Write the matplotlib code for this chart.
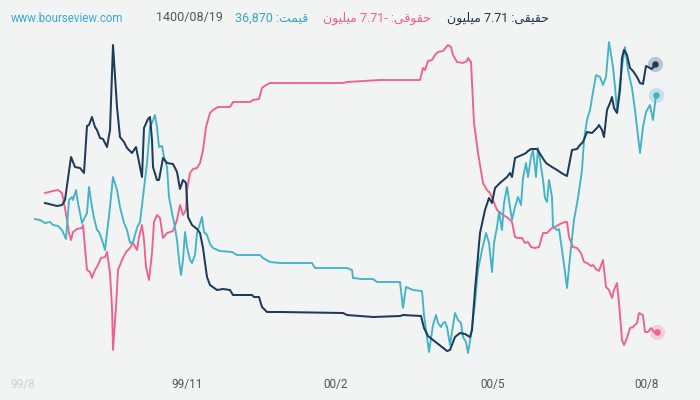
import numpy as np
import matplotlib
matplotlib.use("Agg")
import matplotlib.pyplot as plt

# trading-day positions and index levels
navy_day = [45, 57, 62, 65, 71, 75, 80, 84, 87, 89,
            92, 95, 97, 100, 103, 107, 110, 113, 117, 120,
            124, 127, 132, 136, 138, 142, 144, 148, 150, 152,
            153, 157, 159, 163, 167, 173, 177, 180, 183, 186,
            188, 192, 197, 200, 203, 207, 210, 217, 223, 230,
            233, 252, 254, 259, 262, 267, 280, 343, 347, 373,
            400, 403, 421, 424, 428, 433, 442, 447, 450, 455,
            460, 465, 470, 472, 475, 480, 485, 489, 492, 495,
            500, 507, 510, 512, 515, 522, 526, 528, 531, 537,
            542, 546, 552, 557, 563, 567, 572, 577, 580, 583,
            587, 592, 597, 599, 602, 604, 607, 610, 612, 614,
            617, 620, 622, 624, 627, 630, 633, 637, 640, 643,
            646, 648, 652, 655]
navy_val = [157, 154, 155, 160, 203, 193, 192, 187, 234, 235,
            243, 233, 230, 222, 221, 213, 230, 315, 253, 223,
            218, 212, 207, 213, 203, 183, 232, 241, 243, 220,
            193, 180, 180, 202, 197, 196, 188, 171, 180, 177,
            143, 135, 131, 127, 112, 83, 75, 70, 71, 70,
            65, 65, 63, 63, 53, 48, 48, 47, 45, 43,
            44, 45, 44, 32, 24, 20, 13, 9, 10, 23,
            27, 26, 23, 30, 70, 127, 150, 162, 157, 172,
            177, 183, 187, 183, 202, 205, 207, 209, 211, 211,
            203, 197, 193, 190, 186, 184, 210, 211, 215, 218,
            228, 227, 232, 235, 230, 223, 250, 257, 263, 252,
            247, 270, 302, 310, 305, 292, 289, 283, 277, 276,
            294, 293, 291, 296]

teal_day = [35, 40, 45, 50, 53, 58, 62, 66, 69, 72,
            73, 76, 78, 82, 85, 87, 89, 92, 94, 97,
            99, 102, 105, 107, 110, 113, 117, 120, 124, 127,
            130, 133, 137, 140, 143, 147, 150, 152, 155, 157,
            159, 162, 164, 167, 169, 172, 174, 177, 179, 181,
            183, 185, 187, 190, 192, 195, 197, 199, 202, 204,
            207, 210, 213, 220, 232, 237, 260, 263, 270, 280,
            312, 315, 347, 352, 353, 362, 373, 377, 400, 403,
            406, 413, 422, 424, 427, 429, 433, 436, 438, 441,
            443, 445, 447, 450, 455, 458, 461, 463, 466, 468,
            471, 475, 478, 482, 486, 489, 492, 494, 497, 499,
            502, 504, 507, 509, 512, 515, 518, 521, 523, 526,
            528, 531, 533, 536, 538, 540, 543, 545, 547, 549,
            552, 553, 557, 559, 563, 567, 570, 574, 578, 582,
            584, 587, 590, 593, 596, 600, 603, 606, 609, 613,
            615, 617, 620, 623, 625, 628, 632, 635, 640, 643,
            646, 650, 653, 656]
teal_val = [141, 140, 137, 138, 135, 134, 130, 121, 160, 163,
            160, 170, 157, 137, 143, 147, 173, 153, 142, 130,
            128, 120, 110, 127, 153, 183, 170, 153, 137, 130,
            117, 118, 132, 138, 163, 197, 233, 237, 245, 233,
            213, 214, 203, 193, 163, 147, 138, 120, 100, 85,
            100, 128, 113, 100, 97, 105, 127, 133, 143, 128,
            125, 116, 112, 109, 108, 105, 105, 102, 98, 97,
            97, 92, 92, 90, 82, 81, 81, 78, 78, 52,
            73, 70, 69, 45, 23, 8, 35, 45, 37, 33,
            37, 38, 33, 15, 47, 40, 37, 23, 18, 7,
            25, 57, 90, 110, 127, 117, 88, 117, 133, 148,
            130, 157, 173, 160, 140, 153, 163, 155, 182, 197,
            183, 203, 210, 183, 212, 200, 180, 162, 158, 180,
            163, 133, 130, 131, 103, 72, 103, 140, 162, 190,
            220, 240, 250, 268, 285, 283, 275, 283, 318, 293,
            273, 250, 277, 300, 313, 290, 272, 250, 207, 233,
            248, 255, 240, 265]

pink_day = [45, 53, 58, 62, 64, 67, 69, 71, 73, 77,
            82, 83, 85, 87, 90, 92, 95, 98, 101, 105,
            107, 110, 112, 113, 116, 118, 122, 126, 130, 133,
            137, 139, 142, 144, 146, 149, 152, 154, 157, 160,
            163, 167, 173, 177, 180, 183, 186, 187, 190, 193,
            197, 200, 203, 206, 210, 213, 218, 230, 233, 250,
            253, 259, 262, 266, 270, 343, 347, 380, 420, 423,
            425, 428, 432, 435, 438, 443, 448, 451, 453, 457,
            463, 467, 468, 471, 474, 478, 483, 487, 490, 493,
            497, 503, 508, 512, 515, 518, 522, 525, 528, 531,
            535, 539, 543, 547, 552, 555, 560, 565, 567, 569,
            573, 577, 581, 584, 587, 591, 593, 596, 599, 603,
            606, 609, 612, 614, 617, 619, 622, 624, 627, 630,
            633, 637, 639, 643, 645, 648, 651, 654, 657]
pink_val = [167, 169, 170, 167, 157, 140, 127, 120, 128, 131,
            132, 135, 113, 90, 88, 82, 90, 95, 102, 103,
            108, 87, 53, 10, 53, 90, 100, 108, 112, 117,
            110, 123, 135, 120, 93, 80, 107, 138, 145, 142,
            122, 127, 129, 140, 155, 145, 150, 170, 187, 191,
            192, 197, 210, 233, 247, 250, 253, 253, 258, 258,
            260, 261, 272, 275, 277, 277, 278, 280, 280, 292,
            290, 299, 300, 305, 308, 309, 315, 313, 305, 298,
            297, 299, 302, 298, 237, 207, 177, 170, 167, 160,
            150, 145, 142, 138, 123, 122, 122, 117, 118, 113,
            112, 113, 127, 127, 132, 133, 136, 138, 138, 123,
            113, 112, 107, 98, 97, 94, 95, 91, 89, 100,
            73, 70, 62, 70, 77, 57, 20, 15, 22, 32,
            33, 37, 47, 45, 28, 28, 32, 28, 28]

tick_days = [23, 187, 336, 493, 647]
tick_labels = ["99/8", "99/11", "00/2", "00/5", "00/8"]

# Persian words as presentation forms in visual (left-to-right) order
w_haghighi = "\uFEF0\uFED8\uFEF4\uFED8\uFEA3"   # حقیقی
w_hoghooghi = "\uFEF0\uFED7\uFEEE\uFED8\uFEA3"  # حقوقی
w_milyoon = "\uFEE5\uFEEE\uFEF4\uFEE0\uFEF4\uFEE3"  # میلیون
w_gheymat = "\uFE96\uFEE4\uFEF4\uFED7"          # قیمت

NAVY = "#1d3b5a"
TEAL = "#43b3c9"
PINK = "#f0608f"
BG = "#f2f3f3"

fig = plt.figure(figsize=(7, 4), dpi=100, facecolor=BG)
ax = fig.add_axes([0, 30 / 400, 1, 370 / 400], facecolor=BG)

ax.plot(pink_day, pink_val, color=PINK, lw=1.35, zorder=2)
ax.plot(teal_day, teal_val, color=TEAL, lw=1.35, zorder=3)
ax.plot(navy_day, navy_val, color=NAVY, lw=1.45, zorder=4)

for d, v, c in [(navy_day, navy_val, NAVY), (teal_day, teal_val, TEAL), (pink_day, pink_val, PINK)]:
    ax.scatter(d[-1], v[-1], s=120, color=c, alpha=0.25, lw=0, zorder=5)
    ax.scatter(d[-1], v[-1], s=22, color=c, lw=0, zorder=6)

ax.set_xlim(0, 700)
ax.set_ylim(-10, 360)
ax.set_yticks([])
ax.set_xticks(tick_days)
ax.set_xticklabels(tick_labels, fontfamily="Roboto", fontsize=8.5, color="#555555")
ax.get_xticklabels()[0].set_color("#cfd0d0")
ax.tick_params(axis="x", length=0, pad=6)
for s in ax.spines.values():
    s.set_visible(False)

fam = ["Roboto", "DejaVu Sans"]
ty = 1 - 18 / 400
fig.text(11 / 700, ty, "www.bourseview.com", color="#3aa8d6", fontsize=8.3, family=fam, va="center")
fig.text(156 / 700, ty, "1400/08/19", color="#555555", fontsize=9, family=fam, va="center")
fig.text(308 / 700, ty, "36,870 :" + w_gheymat, color="#3aa6bf", fontsize=9, family=fam,
         va="center", ha="right")
fig.text(431 / 700, ty, w_milyoon + " 7.71- :" + w_hoghooghi, color=PINK, fontsize=9, family=fam,
         va="center", ha="right")
fig.text(549 / 700, ty, w_milyoon + " 7.71 :" + w_haghighi, color="#1e3550", fontsize=9, family=fam,
         va="center", ha="right")

fig.savefig("out.png", dpi=100, facecolor=BG)
